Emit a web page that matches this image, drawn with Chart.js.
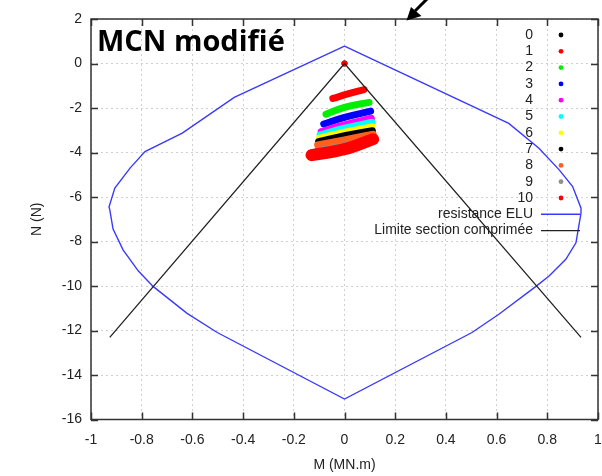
<!DOCTYPE html>
<html>
<head>
<meta charset="utf-8">
<script src="https://cdn.jsdelivr.net/npm/chart.js@4.4.1/dist/chart.umd.min.js"></script>
<style>
  html, body { margin: 0; padding: 0; background: #fff; }
  #wrap { position: relative; width: 602px; height: 476px; }
</style>
</head>
<body>
<div id="wrap"><canvas id="chart-mcn"></canvas></div>
<script>
// Graduations des axes
const xTicks = [-1, -0.8, -0.6, -0.4, -0.2, 0, 0.2, 0.4, 0.6, 0.8, 1];
const xTickLabels = ['-1', '-0.8', '-0.6', '-0.4', '-0.2', '0', '0.2', '0.4', '0.6', '0.8', '1'];
const yTicks = [-16, -14, -12, -10, -8, -6, -4, -2, 0, 2];
const yTickLabels = ['-16', '-14', '-12', '-10', '-8', '-6', '-4', '-2', '0', '2'];

// Diagramme d'interaction (résistance ELU), parcouru en boucle
const envM = [0, -0.435, -0.64, -0.787, -0.846, -0.906, -0.929, -0.926, -0.913, -0.873, -0.813, -0.754, -0.621, -0.502, 0,
              0.503, 0.609, 0.754, 0.807, 0.873, 0.913, 0.933, 0.933, 0.9, 0.847, 0.767, 0.648, 0];
const envN = [0.78, -1.52, -3.13, -3.96, -4.70, -5.60, -6.45, -6.57, -7.44, -8.39, -9.33, -10.03, -11.23, -12.09, -15.08,
              -12.09, -11.27, -10.03, -9.55, -8.80, -8.06, -6.72, -6.50, -5.53, -4.78, -3.81, -2.69, 0.78];

// Limite section comprimée
const limM = [-0.926, 0, 0.933];
const limN = [-12.31, 0, -12.31];

// Pas de chargement 0..10 : nuages (M, N)
const seriesLabels = ['0', '1', '2', '3', '4', '5', '6', '7', '8', '9', '10'];
const seriesColors = ['#000000', '#ff0000', '#00ee00', '#0000ff', '#ff00ff', '#00ffff',
                      '#ffff00', '#000000', '#ff6020', '#909090', '#ff0000'];
const bandM = [
  [0],
  [-0.046, 0.013, 0.077],
  [-0.073, 0, 0.097],
  [-0.082, 0, 0.103],
  [-0.092, 0, 0.106],
  [-0.096, 0, 0.109],
  [-0.099, 0, 0.110],
  [-0.102, 0, 0.110],
  [-0.106, 0, 0.113],
  [-0.106, 0, 0.113],
  [-0.130, 0, 0.113]
];
const bandN = [
  [0],
  [-1.57, -1.37, -1.17],
  [-2.28, -1.97, -1.75],
  [-2.72, -2.42, -2.14],
  [-3.06, -2.76, -2.46],
  [-3.21, -2.91, -2.64],
  [-3.36, -3.09, -2.84],
  [-3.51, -3.24, -3.02],
  [-3.66, -3.43, -3.18],
  [-3.93, -3.70, -3.45],
  [-4.12, -3.85, -3.40]
];
// premier point du pas 10, à l'origine
const originM = [0];
const originN = [0];

const lineLabels = ['resistance ELU', 'Limite section comprimée'];
const lineColors = ['#3a3aff', '#222222'];

const toPoints = (ms, ns) => ms.map((m, i) => ({ x: m, y: ns[i] }));
const FONT = { family: "'Liberation Sans', Arial, sans-serif", size: 14 };

const datasets = [];
let drawIdx = 0;
seriesLabels.forEach((lab, i) => {
    const single = bandM[i].length === 1;
    datasets.push({
        label: lab,
        data: toPoints(bandM[i], bandN[i]),
        showLine: !single,
        borderColor: seriesColors[i],
        backgroundColor: seriesColors[i],
        borderWidth: single ? 0 : (i === 10 ? 12 : 7),
        borderCapStyle: 'round',
        borderJoinStyle: 'round',
        tension: 0.4,
        pointRadius: single ? 3 : 0,
        order: 100 - drawIdx++
    });
    if (i === 10) {
        datasets.push({
            label: lab,
            data: toPoints(originM, originN),
            showLine: false,
            backgroundColor: seriesColors[i],
            borderWidth: 0,
            pointRadius: 3,
            order: 100 - drawIdx++
        });
    }
});
datasets.push({
    label: lineLabels[0],
    data: toPoints(envM, envN),
    showLine: true,
    borderColor: lineColors[0],
    borderWidth: 1.4,
    tension: 0,
    pointRadius: 0,
    order: 100 - drawIdx++
});
datasets.push({
    label: lineLabels[1],
    data: toPoints(limM, limN),
    showLine: true,
    borderColor: lineColors[1],
    borderWidth: 1.3,
    tension: 0,
    pointRadius: 0,
    order: 100 - drawIdx++
});

// Cadre fermé + graduations intérieures (style gnuplot)
const framePlugin = {
    id: 'frame',
    afterDatasetsDraw(chart) {
        const { ctx, chartArea: a, scales: { x, y } } = chart;
        ctx.save();
        ctx.strokeStyle = '#333';
        ctx.lineWidth = 1.5;
        ctx.strokeRect(a.left, a.top, a.right - a.left, a.bottom - a.top);
        ctx.beginPath();
        x.ticks.forEach(t => {
            const px = Math.round(x.getPixelForValue(t.value)) + 0.5;
            ctx.moveTo(px, a.bottom); ctx.lineTo(px, a.bottom - 7);
            ctx.moveTo(px, a.top); ctx.lineTo(px, a.top + 7);
        });
        y.ticks.forEach(t => {
            const py = Math.round(y.getPixelForValue(t.value)) + 0.5;
            ctx.moveTo(a.left, py); ctx.lineTo(a.left + 7, py);
            ctx.moveTo(a.right, py); ctx.lineTo(a.right - 7, py);
        });
        ctx.stroke();
        ctx.restore();
    }
};

// Légende, titre et flèche
const overlayPlugin = {
    id: 'overlay',
    afterDraw(chart) {
        const { ctx } = chart;
        ctx.save();

        ctx.font = "bold 29px 'Open Sans', sans-serif";
        ctx.fillStyle = '#000';
        ctx.textAlign = 'left';
        ctx.textBaseline = 'alphabetic';
        ctx.fillText('MCN modifié', 97, 51);

        const textRight = 533, markX = 561, lineX0 = 541, lineX1 = 580;
        const rowY = k => 35 + k * 16.3;
        ctx.font = `${FONT.size}px ${FONT.family}`;
        ctx.textAlign = 'right';
        ctx.textBaseline = 'middle';
        seriesLabels.forEach((lab, i) => {
            ctx.fillStyle = '#222';
            ctx.fillText(lab, textRight, rowY(i));
            ctx.fillStyle = seriesColors[i];
            ctx.beginPath();
            ctx.arc(markX, rowY(i), 2.4, 0, Math.PI * 2);
            ctx.fill();
        });
        lineLabels.forEach((lab, j) => {
            const yy = rowY(seriesLabels.length + j);
            ctx.fillStyle = '#222';
            ctx.fillText(lab, textRight, yy);
            ctx.strokeStyle = lineColors[j];
            ctx.lineWidth = 1.4;
            ctx.beginPath();
            ctx.moveTo(lineX0, yy); ctx.lineTo(lineX1, yy);
            ctx.stroke();
        });

        // flèche noire en haut
        ctx.fillStyle = '#000';
        ctx.strokeStyle = '#000';
        ctx.lineWidth = 3;
        ctx.beginPath();
        ctx.moveTo(428, -2); ctx.lineTo(415, 11);
        ctx.stroke();
        ctx.beginPath();
        ctx.moveTo(406.5, 20.5);
        ctx.lineTo(411, 7);
        ctx.lineTo(421.5, 16);
        ctx.closePath();
        ctx.fill();

        ctx.restore();
    }
};

new Chart(document.getElementById('chart-mcn').getContext('2d'), {
    type: 'scatter',
    data: { datasets },
    options: {
        responsive: true,
        maintainAspectRatio: false,
        animation: false,
        events: [],
        layout: { autoPadding: false, padding: { left: 0, right: 4, top: 19, bottom: 0 } },
        plugins: { legend: { display: false }, tooltip: { enabled: false } },
        scales: {
            x: {
                type: 'linear', min: -1, max: 1,
                afterBuildTicks: s => { s.ticks = xTicks.map(v => ({ value: v })); },
                afterFit: s => { s.height = 56.5; s.paddingLeft = 0; s.paddingRight = 0; },
                grid: { color: '#d0d0d0', lineWidth: 1, drawTicks: false },
                border: { display: false, dash: [2, 3] },
                ticks: {
                    padding: 12, color: '#222', font: FONT, maxRotation: 0, autoSkip: false,
                    callback: (v, i) => xTickLabels[i]
                },
                title: { display: true, text: 'M (MN.m)', color: '#222', font: FONT, padding: { top: 0, bottom: 2 } }
            },
            y: {
                type: 'linear', min: -16, max: 2,
                afterBuildTicks: s => { s.ticks = yTicks.map(v => ({ value: v })); },
                afterFit: s => { s.width = 91; s.paddingTop = 0; s.paddingBottom = 0; },
                grid: { color: '#d0d0d0', lineWidth: 1, drawTicks: false },
                border: { display: false, dash: [2, 3] },
                ticks: {
                    padding: 9, color: '#222', font: FONT, autoSkip: false,
                    callback: (v, i) => yTickLabels[i]
                },
                title: { display: true, text: 'N (N)', color: '#222', font: FONT, padding: { top: 28.6, bottom: 0 } }
            }
        }
    },
    plugins: [framePlugin, overlayPlugin]
});
</script>
</body>
</html>
